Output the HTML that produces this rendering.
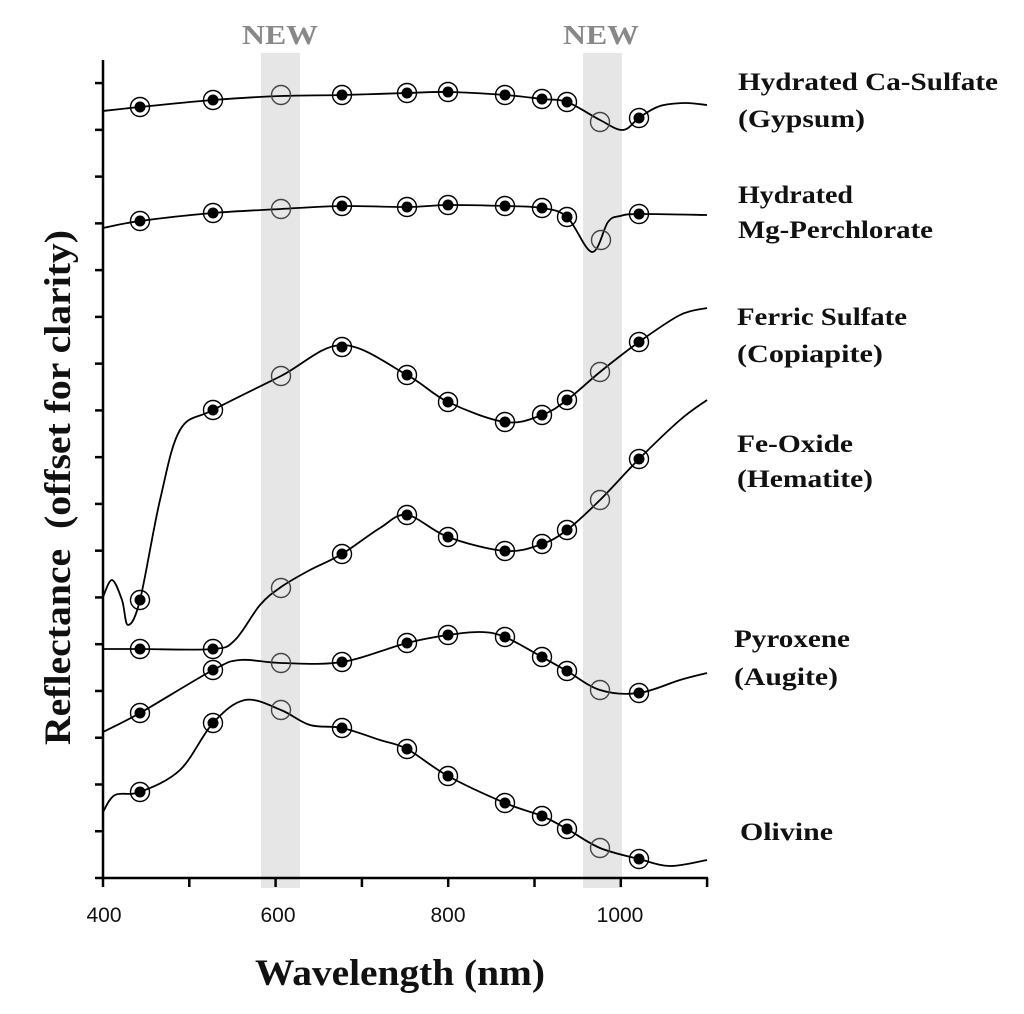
<!DOCTYPE html>
<html><head><meta charset="utf-8"><style>
html,body{margin:0;padding:0;background:#fff;}
svg{display:block}
.lab{font-family:"Liberation Serif",serif;font-weight:bold;font-size:25px;fill:#111}
.tk{font-family:"Liberation Sans",sans-serif;font-size:21px;fill:#111}
</style></head><body>
<svg id="s" width="1024" height="1014" viewBox="0 0 1024 1014" xmlns="http://www.w3.org/2000/svg">
<rect width="1024" height="1014" fill="#fff"/>
<rect x="261" y="53" width="39" height="835" fill="#e6e6e6"/>
<rect x="583" y="53" width="39" height="835" fill="#e6e6e6"/>
<text x="242" y="44" textLength="76" lengthAdjust="spacingAndGlyphs" font-family="Liberation Serif,serif" font-weight="bold" font-size="27" fill="#888">NEW</text>
<text x="563" y="44" textLength="76" lengthAdjust="spacingAndGlyphs" font-family="Liberation Serif,serif" font-weight="bold" font-size="27" fill="#888">NEW</text>
<g id="axes" stroke="#000" stroke-width="2.5" fill="none">
<line x1="103" y1="60" x2="103" y2="879"/>
<line x1="102" y1="878" x2="708" y2="878"/>
</g>
<g id="curves" fill="none" stroke="#000" stroke-width="1.8"></g>
<g id="marks"></g>
<text class="tk" x="104" y="922" text-anchor="middle">400</text>
<text class="tk" x="278" y="922" text-anchor="middle">600</text>
<text class="tk" x="448" y="922" text-anchor="middle">800</text>
<text class="tk" x="620" y="922" text-anchor="middle">1000</text>
<text x="255" y="985" textLength="290" lengthAdjust="spacingAndGlyphs" font-family="Liberation Serif,serif" font-weight="bold" font-size="37" fill="#111">Wavelength (nm)</text>
<text transform="translate(70,745) rotate(-90)" textLength="515" lengthAdjust="spacingAndGlyphs" font-family="Liberation Serif,serif" font-weight="bold" font-size="37" fill="#111" xml:space="preserve">Reflectance  (offset for clarity)</text>
<text class="lab" x="738" y="90" textLength="260" lengthAdjust="spacingAndGlyphs">Hydrated Ca-Sulfate</text>
<text class="lab" x="738" y="127" textLength="127" lengthAdjust="spacingAndGlyphs">(Gypsum)</text>
<text class="lab" x="738" y="203" textLength="115" lengthAdjust="spacingAndGlyphs">Hydrated</text>
<text class="lab" x="738" y="238" textLength="195" lengthAdjust="spacingAndGlyphs">Mg-Perchlorate</text>
<text class="lab" x="737" y="325" textLength="170" lengthAdjust="spacingAndGlyphs">Ferric Sulfate</text>
<text class="lab" x="737" y="362" textLength="146" lengthAdjust="spacingAndGlyphs">(Copiapite)</text>
<text class="lab" x="737" y="452" textLength="116" lengthAdjust="spacingAndGlyphs">Fe-Oxide</text>
<text class="lab" x="737" y="487" textLength="136" lengthAdjust="spacingAndGlyphs">(Hematite)</text>
<text class="lab" x="734" y="647" textLength="116" lengthAdjust="spacingAndGlyphs">Pyroxene</text>
<text class="lab" x="734" y="685" textLength="104" lengthAdjust="spacingAndGlyphs">(Augite)</text>
<text class="lab" x="740" y="840" textLength="93" lengthAdjust="spacingAndGlyphs">Olivine</text>
</svg>
<script>
var NS="http://www.w3.org/2000/svg";
var ax=document.getElementById("axes");
function ln(x1,y1,x2,y2){var l=document.createElementNS(NS,"line");l.setAttribute("x1",x1);l.setAttribute("y1",y1);l.setAttribute("x2",x2);l.setAttribute("y2",y2);ax.appendChild(l);}
for(var i=0;i<8;i++){var x=103+i*86.3;ln(x,878,x,887);}
for(var i=0;i<=17;i++){var y=878-i*46.76;ln(95,y,103,y);}
function cr(p){var d="M"+p[0][0]+","+p[0][1];for(var i=0;i<p.length-1;i++){var p0=p[i-1]||p[i],p1=p[i],p2=p[i+1],p3=p[i+2]||p2;
d+=" C"+(p1[0]+(p2[0]-p0[0])/6).toFixed(1)+","+(p1[1]+(p2[1]-p0[1])/6).toFixed(1)+" "+(p2[0]-(p3[0]-p1[0])/6).toFixed(1)+","+(p2[1]-(p3[1]-p1[1])/6).toFixed(1)+" "+p2[0]+","+p2[1];}return d;}
var C=[
[[103,111],[140,107],[213,100],[281,96],[342,95],[407,93],[448,92],[505,95],[542,99],[567,102],[600,120],[623,130],[640,117],[660,106],[685,103],[707,105]],
[[103,228],[140,221],[213,213],[281,209],[342,206],[407,207],[448,205],[505,206],[542,208],[567,217],[592,252],[608,222],[620,216],[639,214],[707,215]],
[[103,597],[112,580],[122,600],[128,625],[140,600],[160,500],[180,430],[213,410],[281,376],[342,345],[407,375],[448,402],[505,422],[542,415],[567,400],[600,372],[639,342],[680,315],[707,308]],
[[103,649],[140,649],[213,649],[235,640],[260,605],[281,587],[310,570],[342,554],[380,528],[407,515],[448,537],[505,551],[542,544],[567,530],[600,500],[639,459],[680,420],[707,400]],
[[103,732],[140,713],[213,670],[240,660],[281,663],[342,662],[407,643],[448,635],[480,632],[505,637],[542,657],[567,671],[600,690],[639,693],[680,680],[707,673]],
[[103,812],[115,795],[140,792],[180,770],[213,723],[245,700],[281,710],[310,725],[342,728],[380,740],[407,749],[448,776],[505,803],[542,816],[567,829],[600,848],[639,859],[670,866],[707,860]]];
var cg=document.getElementById("curves");
C.forEach(function(p){var e=document.createElementNS(NS,"path");e.setAttribute("d",cr(p));cg.appendChild(e);});
var M=[
[[140,107,1],[213,100,1],[281,95,0],[342,95,1],[407,93,1],[448,92,1],[505,95,1],[542,99,1],[567,102,1],[600,122,0],[639,118,1]],
[[140,221,1],[213,213,1],[281,209,0],[342,206,1],[407,207,1],[448,205,1],[505,206,1],[542,208,1],[567,217,1],[601,240,0],[639,214,1]],
[[140,600,1],[213,410,1],[281,376,0],[342,347,1],[407,375,1],[448,402,1],[505,422,1],[542,415,1],[567,400,1],[600,372,0],[639,342,1]],
[[140,649,1],[213,649,1],[281,588,0],[342,554,1],[407,515,1],[448,537,1],[505,551,1],[542,544,1],[567,530,1],[600,500,0],[639,459,1]],
[[140,713,1],[213,670,1],[281,663,0],[342,662,1],[407,643,1],[448,635,1],[505,637,1],[542,657,1],[567,671,1],[600,690,0],[639,693,1]],
[[140,792,1],[213,723,1],[281,710,0],[342,728,1],[407,749,1],[448,776,1],[505,803,1],[542,816,1],[567,829,1],[600,848,0],[639,859,1]]];
var mg=document.getElementById("marks");
M.forEach(function(s){s.forEach(function(m){var c=document.createElementNS(NS,"circle");c.setAttribute("cx",m[0]);c.setAttribute("cy",m[1]);c.setAttribute("r",9.5);c.setAttribute("fill","none");c.setAttribute("stroke",m[2]?"#000":"#444");c.setAttribute("stroke-width","1.4");mg.appendChild(c);
if(m[2]){var d=document.createElementNS(NS,"circle");d.setAttribute("cx",m[0]);d.setAttribute("cy",m[1]);d.setAttribute("r",5.5);d.setAttribute("fill","#000");mg.appendChild(d);}});});
</script>
</body></html>
